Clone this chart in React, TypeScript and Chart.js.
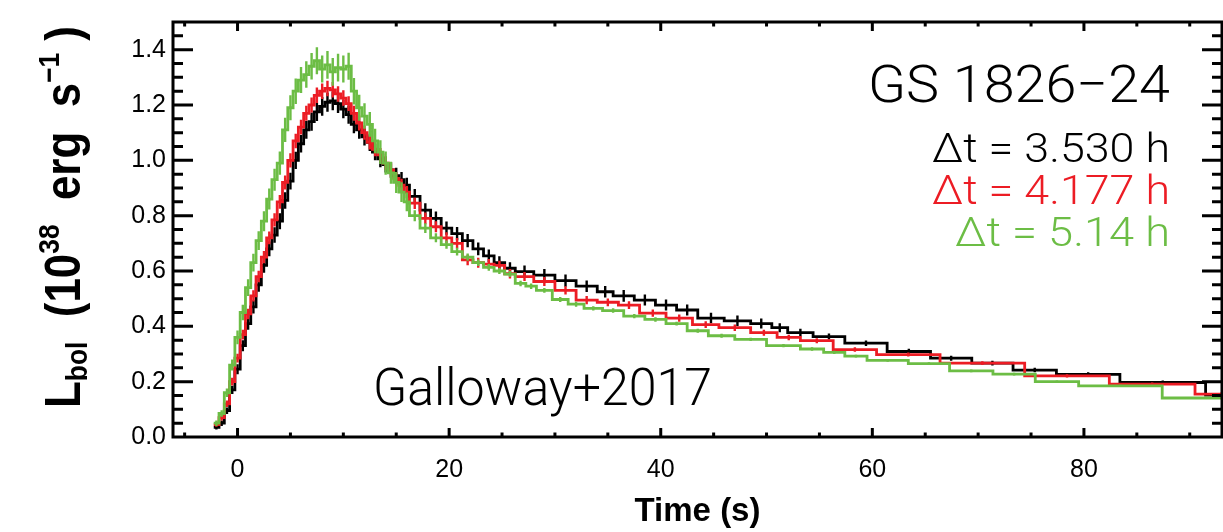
import React, { useEffect, useRef } from 'react';
import { Chart, registerables } from 'chart.js';

Chart.register(...registerables);

// ---------- axis ticks ----------
const xTickValues = [0, 20, 40, 60, 80];
const yTickValues = [0, 0.2, 0.4, 0.6, 0.8, 1.0, 1.2, 1.4];

// ---------- time bins (edges, s) ----------
const sharedEdges = [
  -2.25, -1.75, -1.25, -0.75, -0.25, 0.25, 0.75, 1.25, 1.75, 2.25,
  2.75, 3.25, 3.75, 4.25, 4.75, 5.25, 5.75, 6.25, 6.75, 7.25,
  7.75, 8.25, 8.75, 9.25, 9.75, 10.25, 10.75, 11.25, 11.75, 12.25,
  12.75, 13.25, 13.75, 14.25, 14.75, 15.25, 15.75, 16.25, 17.25, 18.25,
  19.25, 20.25, 21.25, 22.25, 23.25, 24.25, 25.25, 26.25,
];
const blackTailEdges = [28, 30, 32, 34, 35.5, 37.5, 39.5, 41.5, 43.5, 46, 48.5, 50.5, 52, 54.4, 57.4, 61.4, 65.5, 69.4, 73.3, 77.4, 83.4, 91.5, 95.5];
const redTailEdges = [28, 30, 32, 34, 36, 38, 40.5, 43, 45.5, 48.5, 51, 53.2, 56.3, 60.4, 66.4, 74.4, 82.4, 90.5, 95.5];
const greenTailEdges = [27.25, 28.25, 29.75, 31.25, 32.75, 34.5, 36.5, 38.5, 40.5, 42.5, 44.5, 47, 50, 53.2, 55.4, 57.4, 59.5, 63.4, 67.3, 71.4, 75.4, 79.5, 87.4, 95.5];

// ---------- luminosity (1e38 erg/s) ----------
const blackLum = [
  0.035, 0.05, 0.095, 0.17, 0.245, 0.33, 0.41, 0.47, 0.55, 0.62,
  0.68, 0.73, 0.78, 0.855, 0.925, 1.0, 1.06, 1.11, 1.14, 1.175,
  1.195, 1.21, 1.215, 1.205, 1.185, 1.165, 1.13, 1.11, 1.085, 1.065,
  1.03, 1.005, 0.985, 0.965, 0.945, 0.93, 0.91,
  0.87, 0.82, 0.79, 0.755, 0.735, 0.71, 0.68, 0.655, 0.63, 0.61,
  0.598, 0.585, 0.565, 0.545, 0.525, 0.51, 0.495, 0.477, 0.459, 0.43,
  0.42, 0.41, 0.395, 0.377, 0.363, 0.339, 0.309, 0.285, 0.267, 0.242,
  0.226, 0.197, 0.151,
];
const blackErr = [
  0.008, 0.01, 0.012, 0.015, 0.018, 0.02, 0.022, 0.024, 0.025, 0.026,
  0.027, 0.028, 0.029, 0.03, 0.03, 0.031, 0.032, 0.032, 0.033, 0.033,
  0.034, 0.034, 0.034, 0.034, 0.033, 0.033, 0.032, 0.032, 0.031, 0.031,
  0.03, 0.03, 0.029, 0.029, 0.028, 0.028, 0.027,
  0.026, 0.025, 0.025, 0.024, 0.024, 0.024, 0.023, 0.023, 0.023, 0.022,
  0.022, 0.022, 0.022, 0.021, 0.021, 0.021, 0.02, 0.02, 0.02, 0.019,
  0.019, 0.018, 0.016, 0.014, 0.011, 0.01, 0.01, 0.009, 0.009, 0.008,
  0.008, 0.007, 0.007,
];
const redLum = [
  0.045, 0.07, 0.12, 0.2, 0.285, 0.37, 0.445, 0.51, 0.58, 0.65,
  0.72, 0.785, 0.85, 0.92, 1.0, 1.07, 1.12, 1.17, 1.2, 1.235,
  1.25, 1.26, 1.255, 1.24, 1.225, 1.205, 1.17, 1.135, 1.1, 1.065,
  1.04, 1.02, 0.99, 0.965, 0.935, 0.91, 0.885,
  0.845, 0.79, 0.76, 0.72, 0.7, 0.64, 0.63, 0.625, 0.62, 0.59,
  0.58, 0.562, 0.53, 0.495, 0.487, 0.477, 0.448, 0.43, 0.406, 0.395,
  0.377, 0.36, 0.348, 0.316, 0.298, 0.267, 0.221, 0.191, 0.155,
];
const redErr = [
  0.008, 0.01, 0.012, 0.014, 0.016, 0.018, 0.019, 0.02, 0.021, 0.022,
  0.023, 0.024, 0.025, 0.025, 0.026, 0.026, 0.027, 0.027, 0.027, 0.028,
  0.028, 0.028, 0.028, 0.028, 0.028, 0.027, 0.027, 0.027, 0.026, 0.026,
  0.025, 0.025, 0.024, 0.024, 0.023, 0.023, 0.022,
  0.021, 0.021, 0.02, 0.02, 0.019, 0.019, 0.018, 0.018, 0.017, 0.017,
  0.016, 0.016, 0.015, 0.015, 0.014, 0.014, 0.013, 0.013, 0.012, 0.012,
  0.011, 0.01, 0.009, 0.008, 0.007, 0.007, 0.006, 0.006, 0.006,
];
const greenLum = [
  0.05, 0.085, 0.16, 0.26, 0.36, 0.45, 0.54, 0.63, 0.71, 0.78,
  0.86, 0.93, 0.99, 1.11, 1.19, 1.25, 1.29, 1.31, 1.34, 1.36,
  1.33, 1.345, 1.32, 1.335, 1.33, 1.34, 1.25, 1.19, 1.16, 1.13,
  1.07, 1.03, 0.99, 0.955, 0.92, 0.885, 0.85,
  0.8, 0.755, 0.72, 0.695, 0.67, 0.65, 0.63, 0.613, 0.6, 0.589,
  0.555, 0.545, 0.53, 0.497, 0.48, 0.465, 0.457, 0.437, 0.425, 0.41,
  0.384, 0.366, 0.353, 0.33, 0.318, 0.306, 0.292, 0.277, 0.265, 0.239,
  0.227, 0.2, 0.185, 0.141,
];
const greenErr = [
  0.01, 0.012, 0.015, 0.02, 0.025, 0.028, 0.03, 0.032, 0.034, 0.036,
  0.038, 0.04, 0.042, 0.044, 0.045, 0.046, 0.047, 0.048, 0.048, 0.049,
  0.049, 0.05, 0.05, 0.05, 0.049, 0.049, 0.048, 0.047, 0.046, 0.045,
  0.044, 0.043, 0.042, 0.04, 0.038, 0.036, 0.034,
  0.02, 0.018, 0.016, 0.015, 0.014, 0.013, 0.012, 0.012, 0.011, 0.011,
  0.01, 0.01, 0.009, 0.009, 0.009, 0.008, 0.008, 0.008, 0.008, 0.007,
  0.007, 0.007, 0.006, 0.006, 0.006, 0.006, 0.005, 0.005, 0.005, 0.005,
  0.005, 0.004, 0.004, 0.004,
];

const BLACK = '#000000';
const RED = '#ec1c24';
const GREEN = '#6cbd45';

const TICK_FONT = '"Liberation Sans", Arial, sans-serif';
const LIGHT_FONT = 'Roboto, "Liberation Sans", sans-serif';

function stepPoints(edges: number[], lum: number[]) {
  const pts = lum.map((v, i) => ({ x: edges[i], y: v }));
  pts.push({ x: edges[edges.length - 1], y: lum[lum.length - 1] });
  return pts;
}

const errorBarPlugin = {
  id: 'errorBars',
  afterDatasetDraw(chart: any, args: any) {
    const ds = chart.data.datasets[args.index];
    if (!ds.errEdges) return;
    const { ctx, chartArea, scales } = chart;
    const xs = scales.x;
    const ys = scales.y;
    ctx.save();
    ctx.beginPath();
    ctx.rect(chartArea.left, chartArea.top, chartArea.right - chartArea.left, chartArea.bottom - chartArea.top);
    ctx.clip();
    ctx.strokeStyle = ds.borderColor;
    ctx.lineWidth = 2.4;
    ctx.beginPath();
    for (let i = 0; i < ds.errLum.length; i++) {
      const xc = (ds.errEdges[i] + ds.errEdges[i + 1]) / 2;
      const px = xs.getPixelForValue(xc);
      const y1 = ys.getPixelForValue(ds.errLum[i] - ds.errVals[i]);
      const y2 = ys.getPixelForValue(ds.errLum[i] + ds.errVals[i]);
      ctx.moveTo(px, y1);
      ctx.lineTo(px, y2);
    }
    ctx.stroke();
    ctx.restore();
  },
};

const framePlugin = {
  id: 'frame',
  afterDraw(chart: any) {
    const { ctx, chartArea, scales } = chart;
    const { left, right, top, bottom } = chartArea;
    const xs = scales.x;
    const ys = scales.y;
    ctx.save();
    ctx.strokeStyle = '#000';
    ctx.lineWidth = 3;
    ctx.lineCap = 'butt';
    ctx.beginPath();
    for (let v = -5; v <= 90; v += 5) {
      const px = xs.getPixelForValue(v);
      const len = v % 20 === 0 ? 9 : 4.5;
      ctx.moveTo(px, bottom);
      ctx.lineTo(px, bottom - len);
      ctx.moveTo(px, top);
      ctx.lineTo(px, top + len);
    }
    for (let k = 1; k < 30; k++) {
      const py = ys.getPixelForValue(k * 0.05);
      const len = k % 4 === 0 ? 20 : 10;
      ctx.moveTo(left, py);
      ctx.lineTo(left + len, py);
      ctx.moveTo(right, py);
      ctx.lineTo(right - len, py);
    }
    ctx.stroke();
    ctx.strokeRect(left, top, right - left, bottom - top);
    ctx.restore();
  },
};

function fitText(ctx: CanvasRenderingContext2D, text: string, font: string, color: string, x0: number, x1: number, baseline: number) {
  ctx.save();
  ctx.font = font;
  const w = ctx.measureText(text).width;
  ctx.translate(x0, baseline);
  ctx.scale((x1 - x0) / w, 1);
  ctx.fillStyle = color;
  ctx.textAlign = 'left';
  ctx.textBaseline = 'alphabetic';
  ctx.fillText(text, 0, 0);
  ctx.restore();
}

const annotationPlugin = {
  id: 'annotations',
  afterDraw(chart: any) {
    const ctx = chart.ctx as CanvasRenderingContext2D;
    fitText(ctx, 'GS 1826\u221224', `300 52px ${LIGHT_FONT}`, BLACK, 868, 1170, 101.5);
    fitText(ctx, '\u0394t = 3.530 h', `300 40px ${LIGHT_FONT}`, BLACK, 932, 1170, 161.5);
    fitText(ctx, '\u0394t = 4.177 h', `300 40px ${LIGHT_FONT}`, RED, 932, 1170, 203.5);
    fitText(ctx, '\u0394t = 5.14 h', `300 40px ${LIGHT_FONT}`, GREEN, 955, 1170, 246);
    fitText(ctx, 'Galloway+2017', `300 52px ${LIGHT_FONT}`, BLACK, 373, 712, 405);

    // rotated y-axis title with sub/superscripts
    const mainFont = `bold 50px ${TICK_FONT}`;
    const smallFont = `bold 30px ${TICK_FONT}`;
    const parts = [
      { t: 'L', f: mainFont, dy: 0 },
      { t: 'bol', f: smallFont, dy: 7 },
      { t: '  (10', f: mainFont, dy: 0 },
      { t: '38', f: smallFont, dy: -21 },
      { t: '  erg  s', f: mainFont, dy: 0 },
      { t: '\u22121', f: smallFont, dy: -21 },
      { t: ' )', f: mainFont, dy: 0 },
    ];
    let total = 0;
    const widths = parts.map((p) => {
      ctx.font = p.f;
      const w = ctx.measureText(p.t).width;
      total += w;
      return w;
    });
    ctx.save();
    ctx.translate(80, 408);
    ctx.rotate(-Math.PI / 2);
    ctx.scale(382 / total, 1);
    ctx.fillStyle = '#000';
    ctx.textAlign = 'left';
    ctx.textBaseline = 'alphabetic';
    let pos = 0;
    parts.forEach((p, i) => {
      ctx.font = p.f;
      ctx.fillText(p.t, pos, p.dy);
      pos += widths[i];
    });
    ctx.restore();
  },
};

export default function App() {
  const canvasRef = useRef<HTMLCanvasElement | null>(null);

  useEffect(() => {
    const canvas = canvasRef.current;
    if (!canvas) return;
    const blackEdges = sharedEdges.concat(blackTailEdges);
    const redEdges = sharedEdges.concat(redTailEdges);
    const greenEdges = sharedEdges.concat(greenTailEdges);

    const mk = (label: string, edges: number[], lum: number[], err: number[], color: string, order: number) => ({
      label,
      data: stepPoints(edges, lum),
      borderColor: color,
      backgroundColor: color,
      borderWidth: 2.8,
      stepped: 'before' as const,
      pointRadius: 0,
      fill: false,
      order,
      errEdges: edges,
      errLum: lum,
      errVals: err,
    });

    const chart = new Chart(canvas, {
      type: 'line',
      data: {
        datasets: [
          mk('Δt = 3.530 h', blackEdges, blackLum, blackErr, BLACK, 3),
          mk('Δt = 4.177 h', redEdges, redLum, redErr, RED, 2),
          mk('Δt = 5.14 h', greenEdges, greenLum, greenErr, GREEN, 1),
        ] as any,
      },
      options: {
        responsive: false,
        animation: false,
        layout: { padding: { top: 12, right: 1, left: 0, bottom: 0 } },
        plugins: { legend: { display: false }, tooltip: { enabled: false } },
        elements: { point: { radius: 0 } },
        scales: {
          x: {
            type: 'linear',
            min: -6.1,
            max: 93.05,
            afterBuildTicks: (s: any) => {
              s.ticks = xTickValues.map((v) => ({ value: v }));
            },
            afterFit: (s: any) => {
              s.height = 95;
            },
            grid: { display: false, drawTicks: false },
            border: { display: false },
            ticks: {
              color: '#000',
              font: { family: TICK_FONT, size: 25 },
              padding: 18,
              maxRotation: 0,
              autoSkip: false,
              callback: (v: any) => String(v),
            },
            title: {
              display: true,
              text: 'Time (s)',
              color: '#000',
              font: { family: TICK_FONT, size: 33, weight: 'bold' },
              padding: { top: 0, bottom: 0 },
            },
          },
          y: {
            type: 'linear',
            min: 0,
            max: 1.5,
            afterBuildTicks: (s: any) => {
              s.ticks = yTickValues.map((v) => ({ value: v }));
            },
            afterFit: (s: any) => {
              s.width = 173;
            },
            grid: { display: false, drawTicks: false },
            border: { display: false },
            ticks: {
              color: '#000',
              font: { family: TICK_FONT, size: 25 },
              padding: 7,
              autoSkip: false,
              callback: (v: any) => Number(v).toFixed(1),
            },
          },
        },
      },
      plugins: [errorBarPlugin, framePlugin, annotationPlugin],
    });
    return () => chart.destroy();
  }, []);

  return (
    <div style={{ position: 'absolute', left: 0, top: 0, width: 1223, height: 532, background: '#fff' }}>
      <canvas ref={canvasRef} width={1223} height={532} style={{ display: 'block' }} />
    </div>
  );
}
